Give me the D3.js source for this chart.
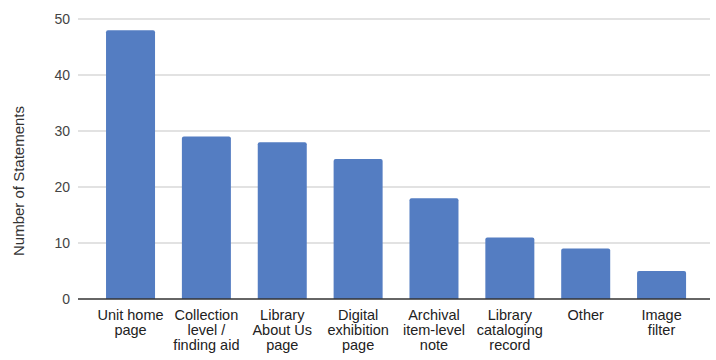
<!DOCTYPE html>
<html><head><meta charset="utf-8">
<script src="https://cdn.jsdelivr.net/npm/d3@7"></script>
<style>body{margin:0;background:#fff}svg{display:block}</style>
</head><body>
<svg id="c" width="716" height="360"></svg>
<script>
const categories = [
  ["Unit home", "page"],
  ["Collection", "level /", "finding aid"],
  ["Library", "About Us", "page"],
  ["Digital", "exhibition", "page"],
  ["Archival", "item-level", "note"],
  ["Library", "cataloging", "record"],
  ["Other"],
  ["Image", "filter"]
];
const values = [48, 29, 28, 25, 18, 11, 9, 5];
const yTicks = [0, 10, 20, 30, 40, 50];
const yTitle = "Number of Statements";

const svg = d3.select("#c");
const font = "Arial, 'Liberation Sans', sans-serif";
const y = d3.scaleLinear().domain([0, 50]).range([299, 19]);
const x = d3.scaleBand().domain(d3.range(values.length))
  .range([92.6, 699.5]).paddingInner(0.354).paddingOuter(0.177);

// gridlines
svg.append("g").selectAll("line").data(yTicks.filter(d => d > 0)).join("line")
  .attr("x1", 78).attr("x2", 710)
  .attr("y1", d => y(d)).attr("y2", d => y(d))
  .attr("stroke", "#d9d9d9").attr("stroke-width", 1.3);

// y tick labels
svg.append("g").selectAll("text").data(yTicks).join("text")
  .attr("x", 70).attr("y", d => y(d) + 5)
  .attr("text-anchor", "end")
  .attr("font-family", font).attr("font-size", 14).attr("fill", "#444")
  .text(d => d);

// bars
const r = 2;
svg.append("g").selectAll("path").data(values).join("path")
  .attr("d", (d, i) => {
    const x0 = x(i), w = x.bandwidth(), y0 = y(d), yb = y(0);
    return `M${x0},${yb}V${y0 + r}Q${x0},${y0} ${x0 + r},${y0}H${x0 + w - r}Q${x0 + w},${y0} ${x0 + w},${y0 + r}V${yb}Z`;
  })
  .attr("fill", "#547dc2");

// baseline
svg.append("line").attr("x1", 78).attr("x2", 710)
  .attr("y1", y(0)).attr("y2", y(0))
  .attr("stroke", "#333").attr("stroke-width", 1.3);

// x labels
const xl = svg.append("g").selectAll("text").data(categories).join("text")
  .attr("text-anchor", "middle")
  .attr("font-family", font).attr("font-size", 14.5).attr("fill", "#222")
  .attr("transform", (d, i) => `translate(${x(i) + x.bandwidth() / 2},319.5)`);
xl.selectAll("tspan").data(d => d).join("tspan")
  .attr("x", 0).attr("dy", (d, j) => j === 0 ? 0 : 15)
  .text(d => d);

// y title
svg.append("text")
  .attr("transform", `translate(24,181) rotate(-90)`)
  .attr("text-anchor", "middle")
  .attr("font-family", font).attr("font-size", 15).attr("fill", "#333")
  .text(yTitle);
</script>
</body></html>
